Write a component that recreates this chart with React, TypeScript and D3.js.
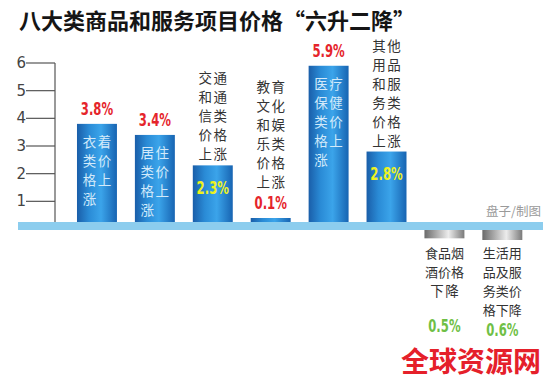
import * as d3 from "d3";

// categories, CPI change (%) and the way each label is broken into lines
const categories = [
  "衣着",
  "居住",
  "交通和通信",
  "教育文化和娱乐",
  "医疗保健",
  "其他用品和服务",
  "食品烟酒",
  "生活用品及服务",
];
const changes = [3.8, 3.4, 2.3, 0.1, 5.9, 2.8, -0.5, -0.6];
const labelLines = [
  ["衣着", "类价", "格上", "涨"],
  ["居住", "类价", "格上", "涨"],
  ["交通", "和通", "信类", "价格", "上涨"],
  ["教育", "文化", "和娱", "乐类", "价格", "上涨"],
  ["医疗", "保健", "类价", "格上", "涨"],
  ["其他", "用品", "和服", "务类", "价格", "上涨"],
  ["食品烟", "酒价格", "下降"],
  ["生活用", "品及服", "务类价", "格下降"],
];
const labelPlace = ["inside", "inside", "above", "above", "inside", "above", "below", "below"];
const valuePlace = ["above", "above", "inside", "top", "above", "inside", "below", "below"];
const yTicks = [1, 2, 3, 4, 5, 6];

const title = "八大类商品和服务项目价格“六升二降”";
const credit = "盘子/制图";
const watermark = "全球资源网";

const W = 550;
const H = 385;
const cjk = "'Noto Sans CJK SC', 'Noto Sans', sans-serif";
const narrow = "'DejaVu Sans Condensed', 'Liberation Sans Narrow', 'Roboto', sans-serif";

export default function App() {
  const x = d3
    .scaleBand<string>()
    .domain(categories)
    .range([65.4, 533.9])
    .paddingInner(0.31)
    .paddingOuter(0.2);
  const y = d3.scaleLinear().domain([0, 6]).range([229, 63]);
  const bandTop = 222;
  const bandBottom = 230;
  const yNeg = d3.scaleLinear().domain([0, 0.6]).range([bandBottom, bandBottom + 10]);
  const axisX = 55;
  const bw = x.bandwidth();

  const valueColor = (v: number, place: string) =>
    v < 0 ? "#6fbf45" : place === "inside" ? "#eef21e" : "#e5242b";

  return (
    <svg
      width={W}
      height={H}
      style={{ position: "absolute", left: 0, top: 0, background: "#fff" }}
    >
      <defs>
        <linearGradient id="blueBar" x1="0" x2="1" y1="0" y2="0">
          <stop offset="0%" stopColor="#1a5ea9" />
          <stop offset="30%" stopColor="#2a8bd6" />
          <stop offset="60%" stopColor="#3ba4ea" />
          <stop offset="100%" stopColor="#1764b2" />
        </linearGradient>
        <linearGradient id="greyBar" x1="0" x2="1" y1="0" y2="0">
          <stop offset="0%" stopColor="#6a6a6a" />
          <stop offset="60%" stopColor="#ececec" />
          <stop offset="100%" stopColor="#7a7a7a" />
        </linearGradient>
      </defs>

      <text
        x={19}
        y={29}
        fontFamily={cjk}
        fontWeight={700}
        fontSize={22}
        fill="#151515"
      >
        {title}
      </text>

      {/* y axis */}
      <line x1={axisX} x2={axisX} y1={y(6)} y2={bandTop} stroke="#555" strokeWidth={1.2} />
      {yTicks.map((t) => (
        <g key={t}>
          <line x1={26} x2={axisX} y1={y(t)} y2={y(t)} stroke="#555" strokeWidth={1.2} />
          <text
            x={26}
            y={y(t)}
            textAnchor="end"
            dominantBaseline="central"
            fontFamily="'DejaVu Sans', sans-serif"
            fontSize={15}
            fill="#444"
          >
            {t}
          </text>
        </g>
      ))}

      {/* bars */}
      {categories.map((c, i) => {
        const v = changes[i];
        const x0 = x(c) ?? 0;
        if (v < 0) {
          return (
            <rect key={c} x={x0} y={bandBottom} width={bw} height={yNeg(-v) - bandBottom} fill="url(#greyBar)" />
          );
        }
        const top = Math.min(y(v), bandTop - 4);
        return <rect key={c} x={x0} y={top} width={bw} height={y(0) - top} fill="url(#blueBar)" />;
      })}

      {/* baseline band */}
      <rect x={18} y={bandTop} width={525} height={bandBottom - bandTop} fill="#8ccdee" />

      {/* labels and values */}
      {categories.map((c, i) => {
        const v = changes[i];
        const cx = (x(c) ?? 0) + bw / 2;
        const top = v < 0 ? yNeg(-v) : Math.min(y(v), bandTop - 4);
        const lines = labelLines[i];
        const lp = labelPlace[i];
        const vp = valuePlace[i];
        const step = 19;
        let firstRow = 0;
        if (lp === "inside") firstRow = top + 17;
        else if (lp === "above") {
          const extra = vp === "top" ? 25 : 0;
          firstRow = top - 12 - extra - (lines.length - 1) * step;
        } else firstRow = bandBottom + 22;

        const labelFill = lp === "inside" ? "#d3eafa" : "#333";
        const rows = lines.map((line, r) => {
          const ry = firstRow + r * step;
          if (line.length === 2 || line.length === 1) {
            return line.split("").map((ch, k) => (
              <text
                key={`${r}-${k}`}
                x={cx + (k === 0 ? -7.5 : 7.5)}
                y={ry}
                textAnchor="middle"
                dominantBaseline="central"
                fontFamily={cjk}
                fontSize={13.5}
                fill={labelFill}
              >
                {ch}
              </text>
            ));
          }
          return (
            <text
              key={r}
              x={cx}
              y={ry}
              textAnchor="middle"
              dominantBaseline="central"
              fontFamily={cjk}
              fontSize={13}
              fill={labelFill}
            >
              {line}
            </text>
          );
        });

        let vy = 0;
        if (vp === "above" || vp === "top") vy = top - 15;
        else if (vp === "inside") vy = top + 22;
        else vy = firstRow + (lines.length - 1) * step + (lines.length === 3 ? 36 : 21);

        return (
          <g key={c}>
            {rows}
            <text
              x={cx}
              y={vy}
              textAnchor="middle"
              dominantBaseline="central"
              fontFamily={narrow}
              fontWeight={700}
              fontSize={18}
              fill={valueColor(v, vp)}
              transform={`translate(${cx},0) scale(0.72,1) translate(${-cx},0)`}
            >
              {`${Math.abs(v).toFixed(1)}%`}
            </text>
          </g>
        );
      })}

      <text x={541} y={210} textAnchor="end" dominantBaseline="central" fontFamily={cjk} fontSize={12.5} fill="#9a9a9a">
        {credit}
      </text>

      <text x={541} y={360} textAnchor="end" dominantBaseline="central" fontFamily={cjk} fontWeight={700} fontSize={28} fill="#e5202a">
        {watermark}
      </text>
    </svg>
  );
}
